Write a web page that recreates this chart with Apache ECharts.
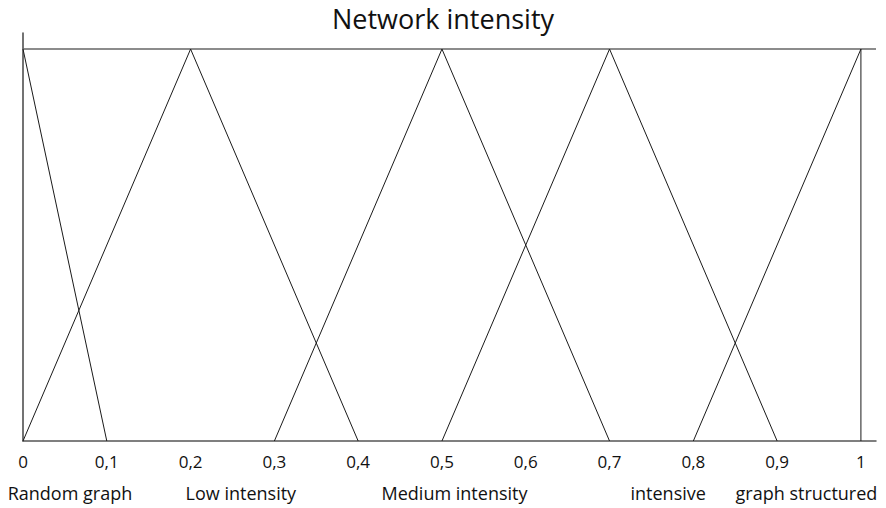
<!DOCTYPE html>
<html>
<head>
<meta charset="utf-8">
<script src="https://cdn.jsdelivr.net/npm/echarts@6/dist/echarts.min.js"></script>
<style>html,body{margin:0;padding:0;background:#fff}#c{width:886px;height:508px}</style>
</head>
<body>
<div id="c"></div>
<script>
const titleText = 'Network intensity';
const tickValues = [0, 0.1, 0.2, 0.3, 0.4, 0.5, 0.6, 0.7, 0.8, 0.9, 1];
const randomGraph = [[0, 1], [0.1, 0]];
const lowIntensity = [[0, 0], [0.2, 1], [0.4, 0]];
const mediumIntensity = [[0.3, 0], [0.5, 1], [0.7, 0]];
const intensive = [[0.5, 0], [0.7, 1], [0.9, 0]];
const graphStructured = [[0.8, 0], [1, 1], [1, 0]];
const setNames = ['Random graph', 'Low intensity', 'Medium intensity', 'intensive', 'graph structured'];
const setLabelX = [0.056, 0.26, 0.515, 0.77, 0.935];
const xMax = 1.018;
const yMax = 1.041;

const font = '"Open Sans", "Noto Sans", sans-serif';
const chart = echarts.init(document.getElementById('c'), null, {renderer: 'svg'});
const lineStyle = {color: '#1a1a1a', width: 1};
function tri(name, data) {
  return {name, type: 'line', data, symbol: 'none', lineStyle, silent: true, animation: false};
}
chart.setOption({
  backgroundColor: '#fff',
  animation: false,
  title: {text: titleText, left: 'center', top: 0,
    textStyle: {fontFamily: font, fontSize: 27, fontWeight: 'normal', color: '#111'}},
  grid: {left: 23, right: 10, top: 33, bottom: 67},
  xAxis: {type: 'value', min: 0, max: xMax, interval: 0.1,
    axisLine: {show: true, lineStyle: {color: '#555', width: 1.5}},
    axisTick: {show: false}, splitLine: {show: false},
    axisLabel: {margin: 12, fontFamily: font, fontSize: 17, color: '#111',
      formatter: v => (v > 1.0001 || !tickValues.some(t => Math.abs(t - v) < 1e-6)) ? '' : String(+v.toFixed(1)).replace('.', ',')}},
  yAxis: {type: 'value', min: 0, max: yMax,
    axisLine: {show: true, lineStyle: {color: '#444', width: 1.5}},
    axisTick: {show: false}, splitLine: {show: false}, axisLabel: {show: false}},
  series: [
    {type: 'line', data: [[0, 1], [xMax, 1]], symbol: 'none', lineStyle: {color: '#666', width: 1.5}, silent: true},
    tri('Random graph', randomGraph),
    tri('Low intensity', lowIntensity),
    tri('Medium intensity', mediumIntensity),
    tri('intensive', intensive),
    tri('graph structured', graphStructured)
  ]
});
const y0 = chart.convertToPixel({gridIndex: 0}, [0, 0])[1];
chart.setOption({
  graphic: setNames.map((n, i) => ({
    type: 'text',
    x: chart.convertToPixel({gridIndex: 0}, [setLabelX[i], 0])[0],
    y: y0 + 52,
    style: {text: n, fontFamily: font, fontSize: 18, fill: '#111', align: 'center', verticalAlign: 'middle'}
  }))
});
</script>
</body>
</html>
